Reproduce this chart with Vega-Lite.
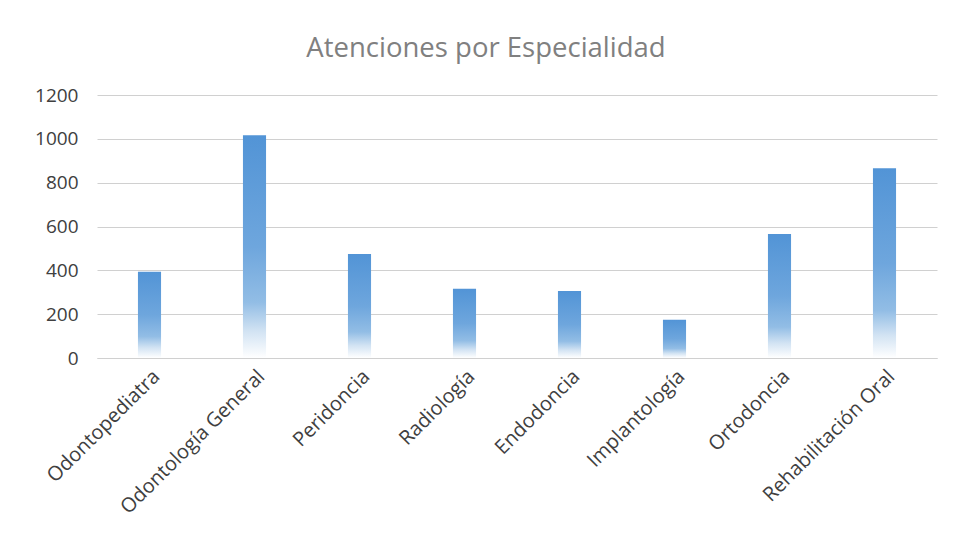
{
  "$schema": "https://vega.github.io/schema/vega-lite/v6.json",
  "width": 840,
  "height": 263,
  "autosize": {"type": "none"},
  "padding": {"left": 97, "top": 95, "right": 16, "bottom": 178},
  "background": "white",
  "title": {
    "text": "Atenciones por Especialidad",
    "font": "Open Sans",
    "fontSize": 27.5,
    "fontWeight": "normal",
    "color": "#808080",
    "anchor": "middle",
    "dx": -31,
    "offset": 24
  },
  "data": {
    "values": [
      {"especialidad": "Odontopediatra", "atenciones": 393},
      {"especialidad": "Odontología General", "atenciones": 1016},
      {"especialidad": "Peridoncia", "atenciones": 474},
      {"especialidad": "Radiología", "atenciones": 316},
      {"especialidad": "Endodoncia", "atenciones": 306},
      {"especialidad": "Implantología", "atenciones": 175},
      {"especialidad": "Ortodoncia", "atenciones": 566},
      {"especialidad": "Rehabilitación Oral", "atenciones": 866}
    ]
  },
  "mark": {
    "type": "bar",
    "fill": {
      "gradient": "linear",
      "x1": 0, "y1": 0, "x2": 0, "y2": 1,
      "stops": [
        {"offset": 0, "color": "#5294d6"},
        {"offset": 0.5, "color": "#6ea6dd"},
        {"offset": 0.75, "color": "#92bde5"},
        {"offset": 0.88, "color": "#d2e3f3"},
        {"offset": 1, "color": "#ffffff"}
      ]
    }
  },
  "encoding": {
    "x": {
      "field": "especialidad",
      "type": "nominal",
      "sort": null,
      "scale": {"paddingInner": 0.78, "paddingOuter": 0.39},
      "axis": {
        "title": null,
        "labelAngle": -45,
        "labelFont": "Open Sans",
        "labelFontSize": 20,
        "labelColor": "#404040",
        "ticks": false,
        "domainColor": "#d0d0d0",
        "domainWidth": 1,
        "labelPadding": 8,
        "labelLimit": 300
      }
    },
    "y": {
      "field": "atenciones",
      "type": "quantitative",
      "scale": {"domain": [0, 1200]},
      "axis": {
        "title": null,
        "values": [0, 200, 400, 600, 800, 1000, 1200],
        "format": "d",
        "labelFont": "Open Sans",
        "labelFontSize": 19,
        "labelColor": "#404040",
        "labelPadding": 19,
        "ticks": false,
        "domain": false,
        "gridColor": "#d0d0d0",
        "gridWidth": 1
      }
    }
  },
  "config": {"view": {"stroke": null}}
}
